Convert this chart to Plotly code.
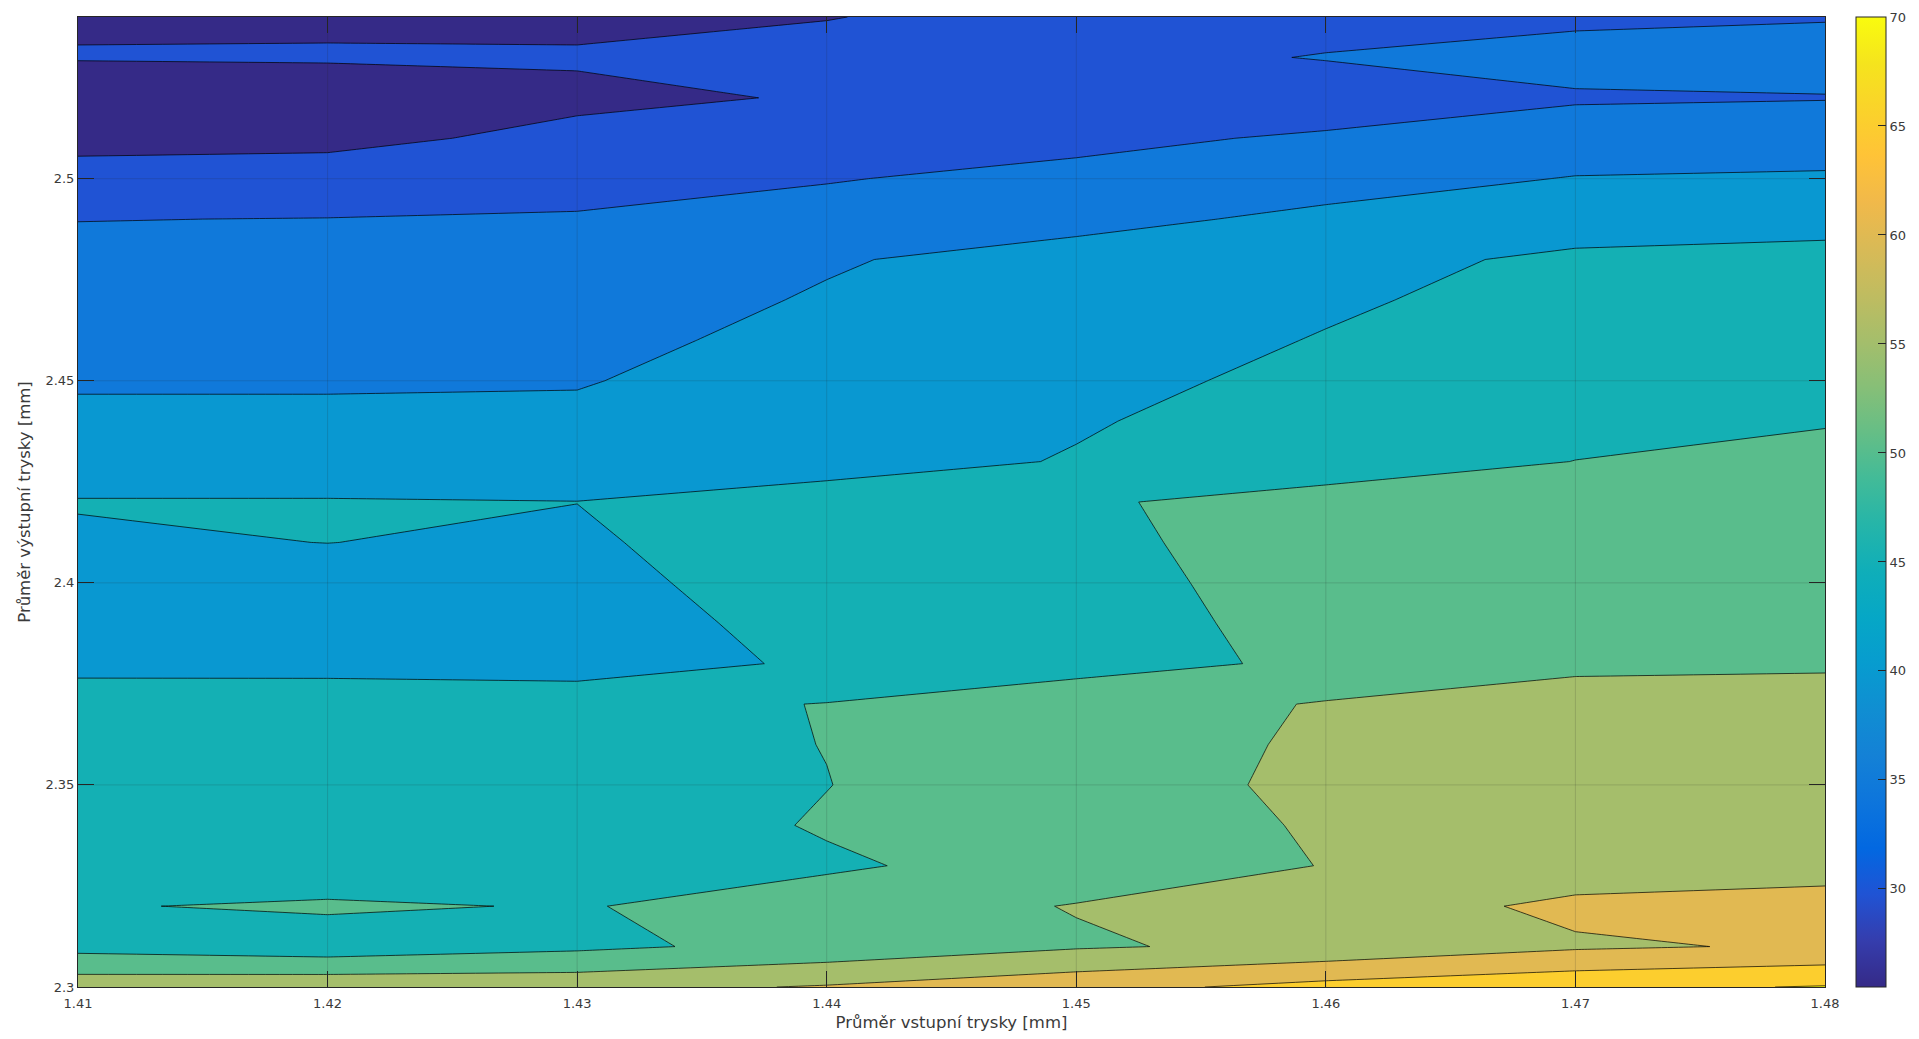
import plotly.graph_objects as go

# Inlet nozzle diameter [mm] on x, outlet nozzle diameter [mm] on y
x_inlet = [1.41, 1.42, 1.43, 1.44, 1.45, 1.46, 1.47, 1.48]
y_outlet = [2.30, 2.31, 2.32, 2.33, 2.34, 2.35, 2.36, 2.37, 2.38, 2.39, 2.40, 2.41,
            2.42, 2.43, 2.44, 2.45, 2.46, 2.47, 2.48, 2.49, 2.50, 2.51, 2.52, 2.53, 2.54]

# Measured values, one list per inlet diameter, ordered from y = 2.30 upward
col_141 = [58.0, 48.4, 49.6, 48.8, 48.0, 47.3, 46.6, 45.9, 44.5, 43.8, 43.7, 44.3, 45.3,
           42.0, 41.0, 39.5, 38.6, 37.6, 36.4, 34.9, 32.5, 28.0, 25.5, 30.4, 29.1]
col_142 = [58.6, 47.0, 50.8, 46.1, 46.8, 46.8, 46.3, 45.7, 44.6, 43.5, 42.5, 45.05, 45.4,
           41.0, 40.6, 39.7, 38.8, 37.8, 36.6, 35.1, 31.8, 29.0, 26.9, 30.5, 29.1]
col_143 = [58.4, 49.0, 49.6, 48.0, 46.6, 47.0, 47.8, 48.5, 42.3, 42.5, 43.0, 44.0, 45.05,
           42.5, 41.0, 39.7, 38.9, 38.0, 37.0, 35.5, 32.9, 31.0, 29.2, 30.4, 29.1]
col_144 = [60.4, 51.55, 52.9, 49.2, 50.5, 49.9, 50.1, 50.15, 45.9, 46.9, 48.3, 49.3, 47.0,
           43.2, 42.8, 42.4, 41.2, 40.4, 39.6, 37.0, 34.7, 32.0, 30.3, 31.0, 29.9]
col_145 = [63.3, 54.5, 55.2, 52.5, 53.5, 53.9, 53.0, 52.0, 48.8, 48.6, 48.4, 48.6, 49.0,
           45.3, 44.6, 44.0, 43.3, 42.6, 41.7, 38.7, 36.5, 33.6, 33.3, 33.1, 31.1]
col_146 = [66.6, 56.2, 57.0, 55.13, 55.3, 55.5, 55.6, 55.4, 50.6, 51.1, 51.9, 52.6, 53.0,
           45.9, 47.0, 45.9, 45.2, 44.5, 43.5, 41.0, 38.2, 35.8, 31.6, 35.3, 32.7]
col_147 = [68.8, 59.3, 61.2, 56.9, 57.5, 57.5, 57.0, 56.5, 54.3, 53.5, 52.8, 52.0, 51.2,
           50.1, 47.6, 47.3, 47.0, 46.3, 45.85, 42.8, 40.2, 37.4, 34.5, 36.7, 34.1]
col_148 = [70.3, 60.6, 61.5, 58.5, 58.5, 58.2, 57.5, 56.0, 54.7, 54.0, 53.2, 52.5, 51.8,
           50.9, 49.8, 49.0, 48.0, 47.0, 46.0, 43.9, 40.5, 38.0, 34.8, 37.0, 34.7]

columns = [col_141, col_142, col_143, col_144, col_145, col_146, col_147, col_148]
z_grid = [[col[j] for col in columns] for j in range(len(y_outlet))]

# Contour levels
level_start, level_end, level_step = 30, 70, 5

# Tick labels
x_ticktext = ["1.41", "1.42", "1.43", "1.44", "1.45", "1.46", "1.47", "1.48"]
y_tickvals = [2.30, 2.35, 2.40, 2.45, 2.50]
y_ticktext = ["2.3", "2.35", "2.4", "2.45", "2.5"]
cbar_tickvals = [30, 35, 40, 45, 50, 55, 60, 65, 70]
cbar_min, cbar_max = 25.5, 70

# Parula colormap stops (used for the colour bar)
parula = [
    (0.2081, 0.1663, 0.5292), (0.2081, 0.2386, 0.6771), (0.1253, 0.3242, 0.8303),
    (0.0060, 0.4086, 0.8828), (0.0498, 0.4586, 0.8641), (0.0779, 0.5040, 0.8384),
    (0.0641, 0.5570, 0.8240), (0.0265, 0.6137, 0.8135), (0.0228, 0.6535, 0.7768),
    (0.0590, 0.6838, 0.7254), (0.1453, 0.7098, 0.6646), (0.2586, 0.7317, 0.5954),
    (0.3953, 0.7459, 0.5244), (0.5300, 0.7491, 0.4661), (0.6473, 0.7456, 0.4188),
    (0.7525, 0.7384, 0.3768), (0.8507, 0.7299, 0.3360), (0.9450, 0.7261, 0.2886),
    (0.9990, 0.7653, 0.2164), (0.9789, 0.8271, 0.1633), (0.9589, 0.8949, 0.1132),
    (0.9763, 0.9831, 0.0538),
]
parula_scale = [
    [i / (len(parula) - 1), "rgb(%d,%d,%d)" % tuple(round(c * 255) for c in rgb)]
    for i, rgb in enumerate(parula)
]

# Fill colour of each band: below 30, 30-35, ..., 65-70, above 70
band_colors = ["#352a87", "#2053d4", "#1079da", "#0998d1", "#14b0b4",
               "#59bd8c", "#a5be6b", "#e1b952", "#fcce2e", "#f9fb0e"]

# Stepped colour scale: plotly maps the fill palette over [start - step, end]
n_bands = len(band_colors) - 1
fill_scale = []
for k in range(n_bands):
    lo = k / n_bands
    hi = (k + 1) / n_bands if k < n_bands - 1 else 0.99
    fill_scale.append([lo, band_colors[k]])
    fill_scale.append([hi, band_colors[k]])
fill_scale.append([0.99, band_colors[-1]])
fill_scale.append([1.0, band_colors[-1]])

ink = "#262626"
text_ink = "#3a3a3a"
font_family = "DejaVu Sans, Verdana, sans-serif"

fig = go.Figure()

fig.add_trace(go.Contour(
    x=x_inlet, y=y_outlet, z=z_grid,
    autocontour=False,
    contours=dict(start=level_start, end=level_end, size=level_step,
                  coloring="fill", showlines=True),
    line=dict(color="black", width=0.7, smoothing=0),
    colorscale=fill_scale,
    showscale=False,
    hoverinfo="skip",
))

# Colour bar (continuous parula over the data range)
fig.add_trace(go.Scatter(
    x=[None], y=[None], mode="markers", hoverinfo="skip", showlegend=False,
    marker=dict(
        color=[cbar_min], colorscale=parula_scale, cmin=cbar_min, cmax=cbar_max,
        showscale=True,
        colorbar=dict(
            x=1.0177, xanchor="left", xpad=0,
            y=0.5, yanchor="middle", ypad=0,
            len=1.0, lenmode="fraction",
            thickness=30, thicknessmode="pixels",
            outlinecolor=ink, outlinewidth=1,
            tickvals=cbar_tickvals, ticks="inside", ticklen=8,
            tickcolor=ink, tickwidth=1,
            tickfont=dict(family=font_family, size=13, color=text_ink),
        ),
    ),
))

# Grid lines drawn over the filled contours
grid_color = "rgba(38,38,38,0.16)"
for xv in x_inlet[1:-1]:
    fig.add_shape(type="line", xref="x", yref="paper", x0=xv, x1=xv, y0=0, y1=1,
                  line=dict(color=grid_color, width=1), layer="above")
for yv in y_tickvals[1:]:
    fig.add_shape(type="line", xref="paper", yref="y", x0=0, x1=1, y0=yv, y1=yv,
                  line=dict(color=grid_color, width=1), layer="above")

axis_common = dict(
    ticks="inside", ticklen=16, tickwidth=1, tickcolor=ink,
    showline=True, linecolor=ink, linewidth=1, mirror="ticks",
    showgrid=False, zeroline=False, automargin=False,
    tickfont=dict(family=font_family, size=13, color=text_ink),
)

fig.update_layout(
    width=1919, height=1039,
    margin=dict(l=78, r=94, t=17, b=52, autoexpand=False),
    paper_bgcolor="white", plot_bgcolor="white",
    font=dict(family=font_family, size=13, color=text_ink),
    showlegend=False,
    xaxis=dict(
        range=[x_inlet[0], x_inlet[-1]],
        tickvals=x_inlet, ticktext=x_ticktext,
        ticklabelstandoff=4,
        title=dict(text="Průměr vstupní trysky [mm]",
                   font=dict(family=font_family, size=16.5, color=text_ink), standoff=6),
        **axis_common,
    ),
    yaxis=dict(
        range=[y_outlet[0], y_outlet[-1]],
        tickvals=y_tickvals, ticktext=y_ticktext,
        title=dict(text="Průměr výstupní trysky [mm]",
                   font=dict(family=font_family, size=16.5, color=text_ink), standoff=10),
        **axis_common,
    ),
)

fig.write_html("out.html")
